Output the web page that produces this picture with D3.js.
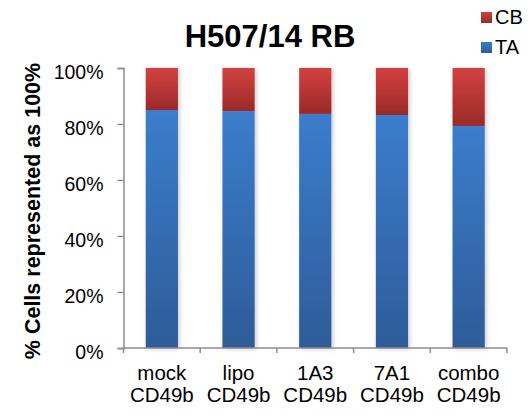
<!DOCTYPE html>
<html>
<head>
<meta charset="utf-8">
<script src="https://cdn.jsdelivr.net/npm/d3@7"></script>
<style>
  html, body { margin: 0; padding: 0; background: #fff; }
  svg { display: block; font-family: Arial, "Liberation Sans", sans-serif; }
</style>
</head>
<body>
<svg id="chart" width="530" height="416"></svg>
<script>
// Stacked 100% bars: share of TA and CB cells per treatment
const categories = [["mock", "CD49b"], ["lipo", "CD49b"], ["1A3", "CD49b"], ["7A1", "CD49b"], ["combo", "CD49b"]];
const taValues = [85.0, 84.6, 83.6, 83.2, 79.3];
const cbValues = [15.0, 15.4, 16.4, 16.8, 20.7];
const seriesNames = ["TA", "CB"];
const yTicks = [0, 20, 40, 60, 80, 100];
const titleText = "H507/14 RB";
const yTitle = "% Cells represented as 100%";

const svg = d3.select("#chart");
const margin = { left: 123.5, right: 23, top: 68, bottom: 68 };
const W = 530, H = 416;

const x = d3.scaleBand()
  .domain(categories.map((d, i) => i))
  .range([margin.left, W - margin.right])
  .paddingInner(0.58)
  .paddingOuter(0.29);
const xTicksScale = d3.scaleBand()
  .domain(categories.map((d, i) => i))
  .range([margin.left, W - margin.right]);
const y = d3.scaleLinear().domain([0, 100]).range([H - margin.bottom, margin.top]);

// gradients and shadow
const defs = svg.append("defs");
const grad = (id, top, bottom) => {
  const g = defs.append("linearGradient").attr("id", id)
    .attr("x1", 0).attr("y1", 0).attr("x2", 0).attr("y2", 1);
  g.append("stop").attr("offset", "0%").attr("stop-color", top);
  g.append("stop").attr("offset", "100%").attr("stop-color", bottom);
};
grad("gTA", "#3b7dcc", "#2d5c98");
grad("gCB", "#d34140", "#9a2a29");
const f = defs.append("filter").attr("id", "shadow")
  .attr("x", "-30%").attr("y", "-10%").attr("width", "160%").attr("height", "120%");
f.append("feDropShadow").attr("dx", 1.5).attr("dy", 1).attr("stdDeviation", 2)
  .attr("flood-color", "#000").attr("flood-opacity", 0.22);

const stacked = categories.map((c, i) => ({ i, TA: taValues[i], CB: cbValues[i] }));
const series = d3.stack().keys(seriesNames)(stacked);
const fills = { TA: "url(#gTA)", CB: "url(#gCB)" };

// bars
const barsG = svg.append("g");
barsG.selectAll("g.col").data(stacked).join("g").attr("class", "col")
  .attr("filter", "url(#shadow)")
  .each(function (d, idx) {
    const g = d3.select(this);
    series.forEach(s => {
      const seg = s[idx];
      g.append("rect")
        .attr("x", x(d.i))
        .attr("width", x.bandwidth())
        .attr("y", y(seg[1]))
        .attr("height", y(seg[0]) - y(seg[1]))
        .attr("fill", fills[s.key]);
    });
  });

// y axis
const axisColor = "#8c8c8c";
const yAxis = svg.append("g").attr("transform", `translate(${margin.left},0)`)
  .call(d3.axisLeft(y).tickValues(yTicks).tickFormat(d => d + "%").tickSizeOuter(0).tickSize(6).tickPadding(14));
yAxis.select(".domain").attr("stroke", axisColor).attr("stroke-width", 1.5);
yAxis.selectAll(".tick line").attr("stroke", axisColor).attr("stroke-width", 1.5);
yAxis.selectAll(".tick text").attr("font-size", "19.5px").attr("fill", "#000")
  .attr("font-family", "Arial, 'Liberation Sans', sans-serif").attr("dy", "0.52em");

// x axis with boundary ticks between categories
const xAxisG = svg.append("g").attr("transform", `translate(0,${y(0)})`);
xAxisG.append("line").attr("x1", margin.left).attr("x2", W - margin.right)
  .attr("stroke", axisColor).attr("stroke-width", 1.5);
const bounds = categories.map((d, i) => xTicksScale(i)).concat([W - margin.right]);
xAxisG.selectAll("line.tk").data(bounds).join("line").attr("class", "tk")
  .attr("x1", d => d).attr("x2", d => d).attr("y1", 0).attr("y2", 5)
  .attr("stroke", axisColor).attr("stroke-width", 1.5);
const lab = xAxisG.selectAll("text").data(categories).join("text")
  .attr("text-anchor", "middle").attr("font-size", "20.5px").attr("fill", "#000");
lab.each(function (d, i) {
  const t = d3.select(this);
  const cx = x(i) + x.bandwidth() / 2;
  t.append("tspan").attr("x", cx).attr("y", 32).text(d[0]);
  t.append("tspan").attr("x", cx).attr("y", 54).text(d[1]);
});

// title
svg.append("text").attr("x", 270).attr("y", 47).attr("text-anchor", "middle")
  .attr("font-size", "31px").attr("font-weight", "bold").text(titleText);

// y-axis title
svg.append("text").attr("transform", "translate(40,211) rotate(-90)")
  .attr("text-anchor", "middle").attr("font-size", "21.5px").attr("font-weight", "bold").text(yTitle);

// legend
const legend = [{ key: "CB", y: 12 }, { key: "TA", y: 42 }];
const lg = svg.append("g");
legend.forEach(l => {
  lg.append("rect").attr("x", 481).attr("y", l.y).attr("width", 11).attr("height", 11).attr("fill", fills[l.key]);
  lg.append("text").attr("x", 495).attr("y", l.y + 12).attr("font-size", "20px").text(l.key);
});
</script>
</body>
</html>
